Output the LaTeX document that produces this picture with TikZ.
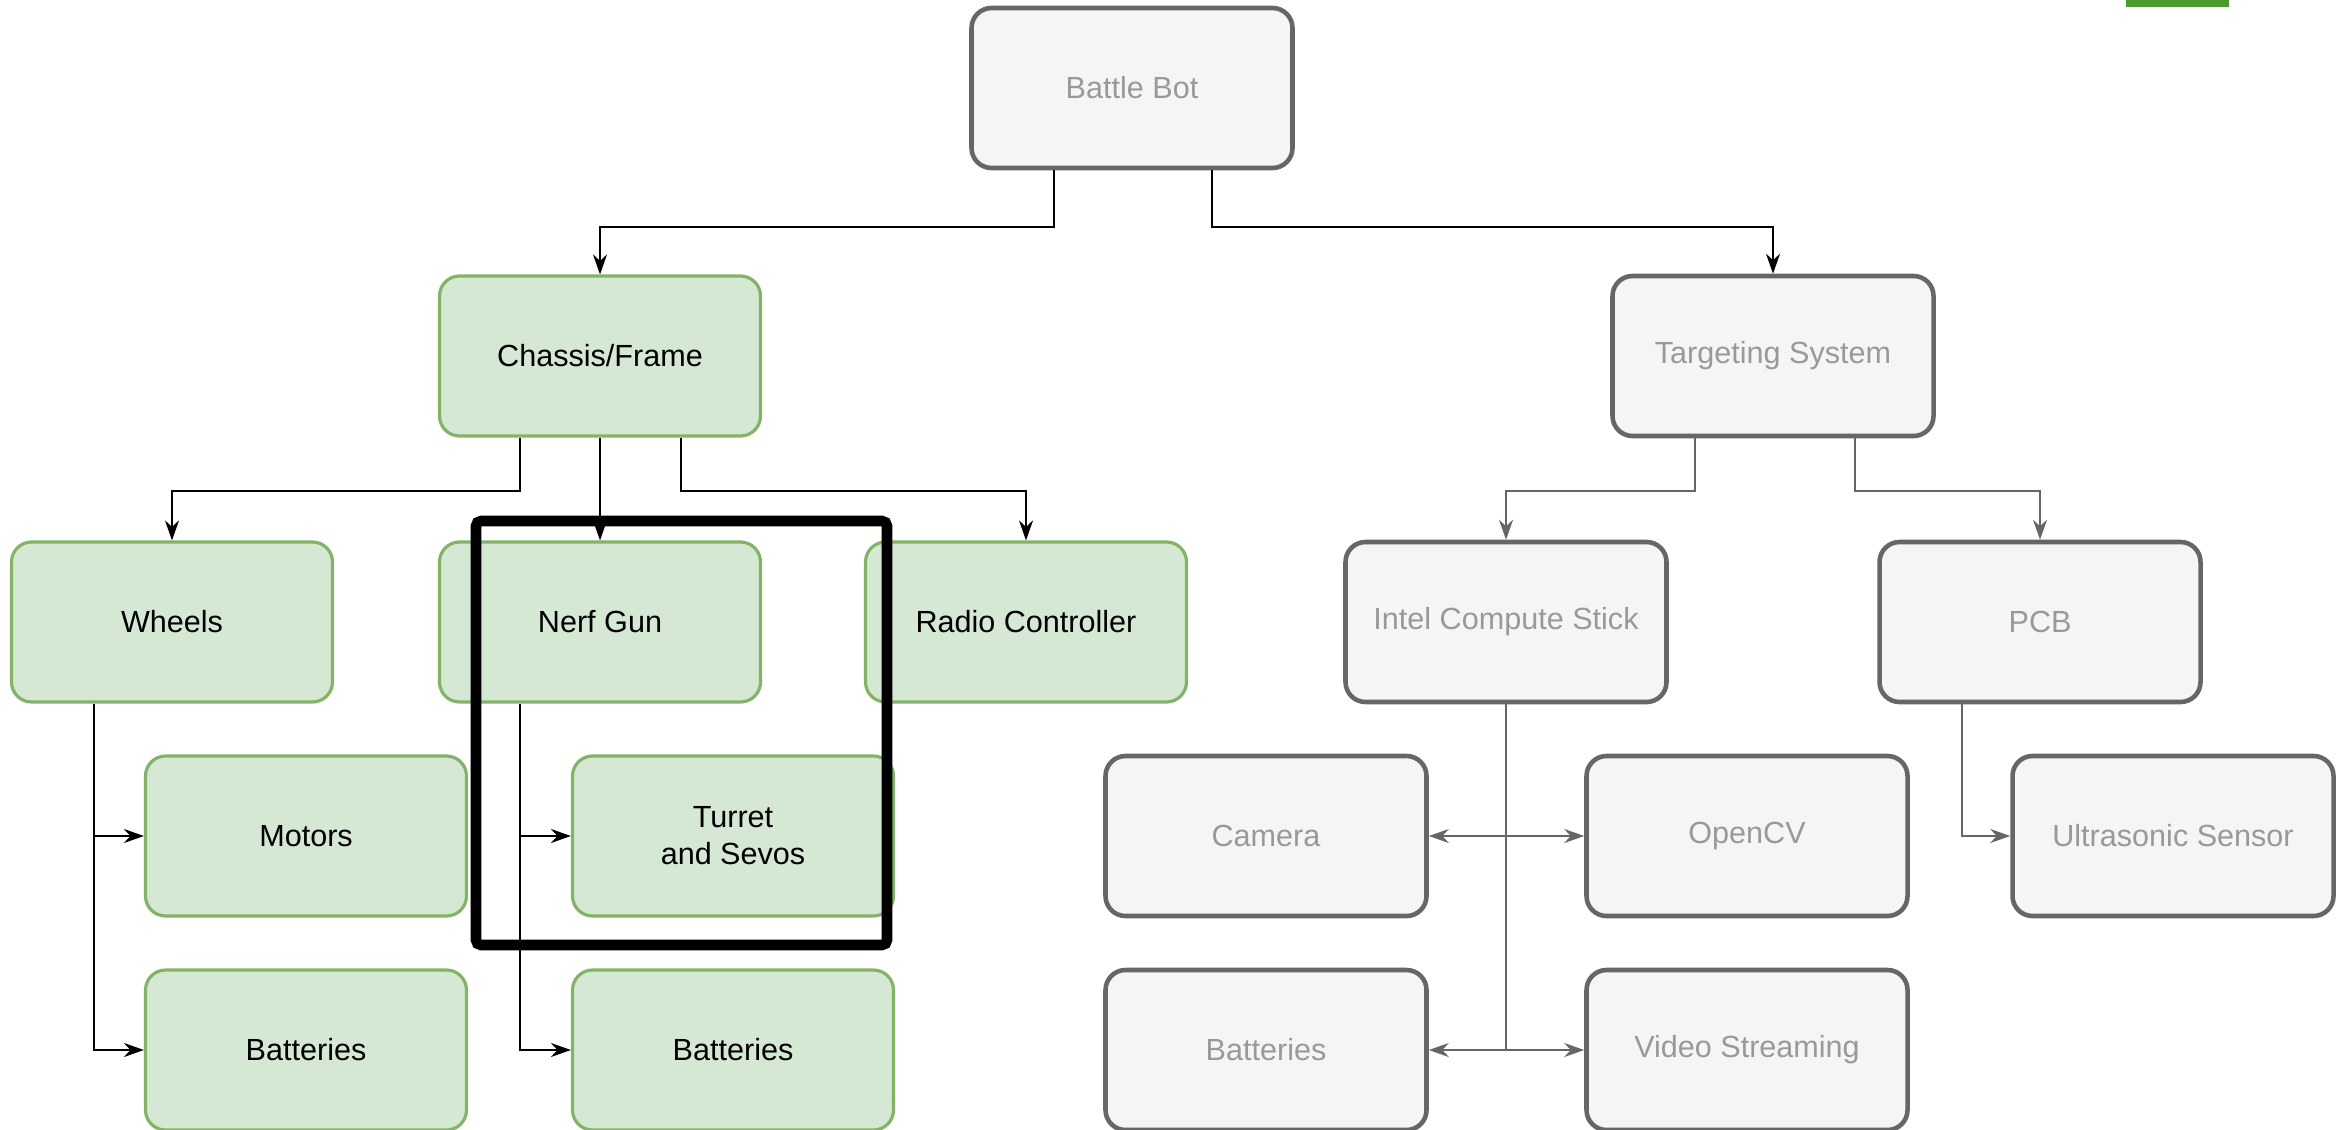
\documentclass[tikz,border=0pt]{standalone}
\usepackage{fontspec}
\setmainfont{Liberation Sans}
\usetikzlibrary{arrows.meta}
\definecolor{greenfill}{HTML}{D5E8D4}
\definecolor{greenline}{HTML}{82B366}
\definecolor{greyfill}{HTML}{F5F5F5}
\definecolor{greyline}{HTML}{666666}
\definecolor{greytext}{HTML}{999999}
\definecolor{tabgreen}{HTML}{4D9A2F}
\begin{document}
\begin{tikzpicture}[
	box/.style={rounded corners=0.2cm, minimum width=3.21cm, minimum height=1.6cm, inner sep=0pt, align=center, font=\fontsize{8.7}{10.5}\selectfont},
	greenbox/.style={box, draw=greenline, fill=greenfill, line width=0.9pt, text=black},
	greybox/.style={box, draw=greyline, fill=greyfill, line width=1.3pt, text=greytext},
	tip/.style={-{Stealth[length=0.2cm, width=0.14cm]}},
	link/.style={tip, line width=0.6pt, black},
	greylink/.style={tip, line width=0.55pt, greyline},
	twoway/.style={greylink, {Stealth[length=0.2cm, width=0.14cm]}-{Stealth[length=0.2cm, width=0.14cm]}}
	]
	            \useasboundingbox (0,0) rectangle (23.51,-11.29);
	            \fill[tabgreen] (21.26,0) rectangle (22.29,-0.07);
	            \node[greybox] at (11.32,-0.88) (bot) {Battle Bot};
	            \node[greenbox] at (6.00,-3.56) (chassis) {Chassis/Frame};
	            \node[greybox] at (17.73,-3.56) (target) {Targeting System};
	            \node[greenbox] at (1.72,-6.22) (wheels) {Wheels};
	            \node[greenbox] at (6.00,-6.22) (nerf) {Nerf Gun};
	            \node[greenbox] at (10.26,-6.22) (radio) {Radio Controller};
	            \node[greybox] at (15.06,-6.22) (intel) {Intel Compute Stick};
	            \node[greybox] at (20.40,-6.22) (pcb) {PCB};
	            \node[greenbox] at (3.06,-8.36) (motors) {Motors};
	            \node[greenbox] at (7.33,-8.36) (turret) {Turret\\and Sevos};
	            \node[greybox] at (12.66,-8.36) (camera) {Camera};
	            \node[greybox] at (17.47,-8.36) (opencv) {OpenCV};
	            \node[greybox] at (21.73,-8.36) (ultra) {Ultrasonic Sensor};
	            \node[greenbox] at (3.06,-10.50) (batwheels) {Batteries};
	            \node[greenbox] at (7.33,-10.50) (batnerf) {Batteries};
	            \node[greybox] at (12.66,-10.50) (battarget) {Batteries};
	            \node[greybox] at (17.47,-10.50) (video) {Video Streaming};
	            \draw[link] ([xshift=-0.78cm]bot.south) -- ++(0,-0.57) -| (chassis);
	            \draw[link] ([xshift=0.80cm]bot.south) -- ++(0,-0.57) -| (target);
	            \draw[link] ([xshift=-0.80cm]chassis.south) -- ++(0,-0.53) -| (wheels);
	            \draw[link] (chassis) -- (nerf);
	            \draw[link] ([xshift=0.81cm]chassis.south) -- ++(0,-0.53) -| (radio);
	            \draw[link] ([xshift=-0.78cm]wheels.south) |- (motors);
	            \draw[link] ([xshift=-0.78cm]wheels.south) |- (batwheels);
	            \draw[link] ([xshift=-0.80cm]nerf.south) |- (turret);
	            \draw[link] ([xshift=-0.80cm]nerf.south) |- (batnerf);
	            \draw[greylink] ([xshift=-0.78cm]target.south) -- ++(0,-0.53) -| (intel);
	            \draw[greylink] ([xshift=0.82cm]target.south) -- ++(0,-0.53) -| (pcb);
	            \draw[greylink, -] (intel.south) -- (intel.south |- battarget);
	            \draw[twoway] (camera) -- (opencv);
	            \draw[twoway] (battarget) -- (video);
	            \draw[greylink] ([xshift=-0.78cm]pcb.south) |- (ultra);
	            \draw[line width=3pt, rounded corners=0.05cm] (4.76,-5.21) rectangle (8.87,-9.45);
            \end{tikzpicture}
\end{document}
